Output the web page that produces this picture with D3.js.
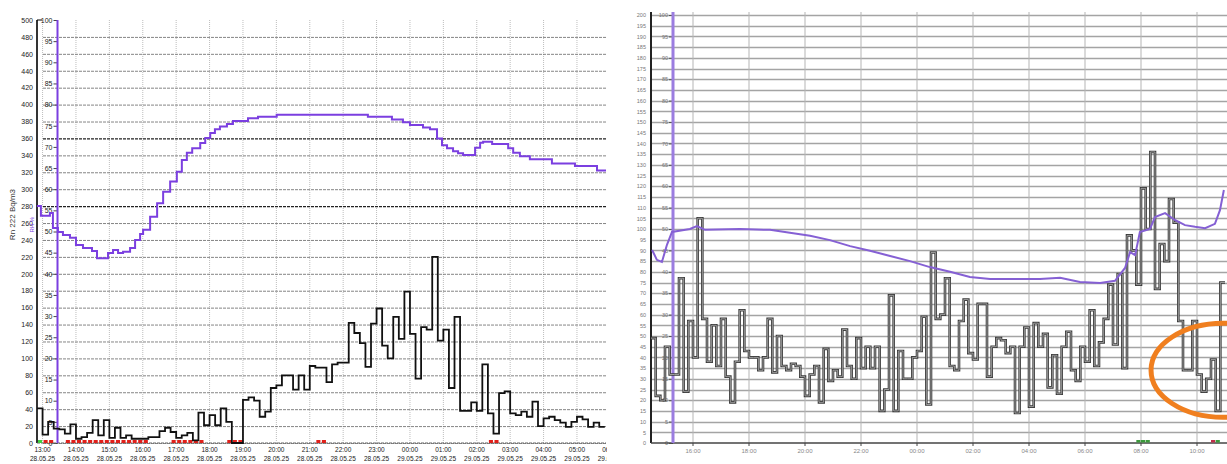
<!DOCTYPE html>
<html>
<head>
<meta charset="utf-8">
<script src="https://cdnjs.cloudflare.com/ajax/libs/d3/7.8.5/d3.min.js"></script>
<style>
body { margin: 0; background: #fff; }
svg { display: block; font-family: "Liberation Sans", Arial, sans-serif; }
</style>
</head>
<body>
<script>
// ---- left screenshot: 10 min readings from 28.05.25 12:50 ----
var leftStart = 12 + 50 / 60;   // hours from 28.05 00:00
var leftRn = [41,10,25,17,16,11,22,5,7,12,27,9,27,6,18,6,9,5,5,5,7,7,14,18,13,6,9,12,3,36,
  21,33,21,41,25,0,0,51,54,50,31,37,65,68,80,80,63,80,63,91,89,89,72,93,95,95,142,130,118,90,
  141,159,115,100,149,123,179,129,76,137,134,220,121,134,65,149,38,38,48,38,93,35,11,59,61,35,
  33,37,31,49,20,29,31,27,24,19,25,31,28,19,24,19];
var leftHumT = [12.83,12.95,13.22,13.31,13.46,13.61,13.82,14.0,14.21,14.48,14.63,14.96,15.11,15.26,15.41,
  15.62,15.77,15.92,16.01,16.22,16.43,16.61,16.82,17.02,17.17,17.32,17.48,17.72,17.87,18.02,18.16,18.31,
  18.52,18.70,19.15,19.45,20.01,22.74,23.46,23.79,24.0,24.39,24.60,24.81,24.96,25.11,25.29,25.44,25.59,
  25.95,26.10,26.19,26.46,26.94,27.09,27.29,27.59,28.25,28.94,29.60,29.87];
var leftHumV = [56.0,53.7,54.4,50.8,49.9,49.2,48.5,46.8,46.1,45.4,43.7,44.9,45.6,44.9,45.2,46.1,48.0,49.4,
  50.4,53.5,56.7,59.4,61.8,64.1,66.9,68.6,69.7,70.9,72.1,73.3,74.2,74.8,75.4,76.1,76.8,77.1,77.6,77.1,76.5,
  75.8,75.2,74.6,74.2,72.0,70.4,69.7,69.0,68.5,68.1,69.8,71.0,71.2,70.7,69.7,68.6,67.8,67.1,66.1,65.5,64.4,64.4];
var leftRedFlags = [1,2,5,6,7,8,9,10,11,12,13,14,15,16,17,18,19,24,25,26,27,28,29,34,35,36,50,51,81,82];
var leftGreenFlags = [0];
var leftHours = [13,14,15,16,17,18,19,20,21,22,23,24,25,26,27,28,29,30];
var leftRnTicks = d3.range(0, 501, 20);
var leftHumTicks = d3.range(0, 101, 5);

// ---- right screenshot: 10 min readings from 14:30 ----
var rightStart = 14.5;
var rightRn = [49,22,20,45,32,32,77,24,57,40,105,58,38,55,36,58,31,19,38,62,43,40,40,34,40,58,33,50,36,34,
  37,36,31,22,32,36,19,44,29,34,31,53,36,30,49,35,45,35,45,15,25,69,15,43,30,30,40,43,59,18,
  89,58,60,77,36,34,57,67,42,39,65,65,31,45,49,48,42,45,14,45,54,17,56,45,51,26,41,23,45,52,
  34,29,45,38,62,36,47,58,74,46,79,35,97,90,74,119,100,136,72,93,85,114,103,57,34,34,57,32,24,30,
  39,15,75];
var rightHumT = [14.54,14.71,14.89,15.07,15.25,15.89,16.14,16.43,17.68,18.75,19.46,20.18,20.89,21.61,22.32,
  23.04,23.75,24.46,25.18,25.89,26.61,27.32,28.39,29.11,29.82,30.54,31.07,31.43,31.61,31.79,31.96,32.32,
  32.5,32.86,33.21,33.57,33.93,34.29,34.64,34.82,34.96];
var rightHumV = [45.1,42.8,42.3,46.3,49.3,50.0,50.7,49.8,50.0,49.8,49.1,48.4,47.4,46.0,44.9,43.7,42.5,41.1,
  40.0,38.8,38.3,38.3,38.3,38.6,37.6,37.4,37.9,40.9,44.6,43.9,49.3,50.0,52.8,53.7,52.1,50.9,50.5,50.2,51.2,54.4,59.1];
var rightRedFlags = [120];
var rightGreenFlags = [104,105,106,121];
var rightHours = [16,18,20,22,24,26,28,30,32,34];
var rightRnTicks = d3.range(0, 201, 5);
var rightHumTicks = d3.range(0, 101, 5);

var step = 1 / 6;
function hhmm(h) { return d3.format("02")(Math.round(h) % 24) + ":00"; }

var svg = d3.select("body").append("svg")
    .attr("width", 1227)
    .attr("height", 464);

// ================= left panel =================
svg.append("clipPath").attr("id", "clipL")
  .append("rect").attr("x", 0).attr("y", 0).attr("width", 607).attr("height", 464);

var left = svg.append("g").attr("clip-path", "url(#clipL)");

var xL = d3.scaleLinear().domain([leftStart, leftStart + 569 / 33.4]).range([37, 606]);
var yL = d3.scaleLinear().domain([0, 500]).range([443, 20]);
var yLH = d3.scaleLinear().domain([0, 100]).range([443, 20]);

// vertical grid
left.selectAll("line.vg").data(leftHours).join("line")
    .attr("x1", function (d) { return xL(d); })
    .attr("x2", function (d) { return xL(d); })
    .attr("y1", yL(500)).attr("y2", yL(0))
    .attr("stroke", "#bdbdbd").attr("stroke-width", 1).attr("stroke-dasharray", "1,1");

// horizontal grid
left.selectAll("line.hg").data(leftRnTicks.filter(function (d) { return d < 500; })).join("line")
    .attr("x1", 43).attr("x2", 606)
    .attr("y1", function (d) { return yL(d) + 0.5; })
    .attr("y2", function (d) { return yL(d) + 0.5; })
    .attr("stroke", function (d) { return (d == 280 || d == 360) ? "#222" : "#666"; })
    .attr("stroke-width", function (d) { return (d == 280 || d == 360) ? 1.2 : 0.8; })
    .attr("stroke-dasharray", "3,1");

// Rn axis
var axRn = left.append("g").attr("transform", "translate(37,0)")
    .call(d3.axisLeft(yL).tickValues(leftRnTicks).tickSize(0).tickPadding(4));
axRn.select(".domain").remove();
axRn.selectAll("text").attr("font-size", 7).attr("fill", "#222");
left.append("line").attr("x1", 37).attr("x2", 37).attr("y1", yL(500)).attr("y2", yL(0))
    .attr("stroke", "#000").attr("stroke-width", 1.6);
left.append("line").attr("x1", 37).attr("x2", 42).attr("y1", yL(500)).attr("y2", yL(500))
    .attr("stroke", "#000");

// humidity axis
var axH = left.append("g").attr("transform", "translate(57.5,0)")
    .call(d3.axisLeft(yLH).tickValues(leftHumTicks).tickSize(4).tickPadding(1));
axH.select(".domain").remove();
axH.selectAll("line").attr("stroke", "#444");
axH.selectAll("text").attr("font-size", 7).attr("fill", "#222");

// x labels
var xl = left.selectAll("text.xl").data(leftHours).join("text")
    .attr("x", function (d) { return xL(d); })
    .attr("y", 452)
    .attr("text-anchor", "middle")
    .attr("font-size", 6.5)
    .attr("fill", "#222");
xl.append("tspan").text(function (d) { return hhmm(d); });
xl.append("tspan").attr("x", function (d) { return xL(d); }).attr("dy", 8.5)
    .text(function (d) { return d < 24 ? "28.05.25" : "29.05.25"; });

left.append("text")
    .attr("transform", "translate(15," + yL(270) + ") rotate(-90)")
    .attr("text-anchor", "middle").attr("font-size", 8).attr("fill", "#333")
    .text("Rn 222 Bq/m3");
left.append("text")
    .attr("transform", "translate(34," + yL(258) + ") rotate(-90)")
    .attr("text-anchor", "middle").attr("font-size", 6).attr("fill", "#7b3fe0")
    .text("RH %");

// baseline
left.append("line").attr("x1", 37).attr("x2", 606).attr("y1", yL(0)).attr("y2", yL(0))
    .attr("stroke", "#666").attr("stroke-dasharray", "3,1");

// flags
left.selectAll("rect.rf").data(leftRedFlags).join("rect")
    .attr("x", function (d) { return xL(leftStart + d * step) + 1; })
    .attr("width", function (d) { return xL(leftStart + (d + 1) * step) - xL(leftStart + d * step) - 1.5; })
    .attr("y", yL(0) - 3).attr("height", 3).attr("fill", "#e0201a");
left.selectAll("rect.gf").data(leftGreenFlags).join("rect")
    .attr("x", function (d) { return xL(leftStart + d * step) + 1; })
    .attr("width", function (d) { return xL(leftStart + (d + 1) * step) - xL(leftStart + d * step) - 1.5; })
    .attr("y", yL(0) - 3).attr("height", 3).attr("fill", "#3fcf3f");

// humidity vertical axis line
left.append("line").attr("x1", 57.5).attr("x2", 57.5).attr("y1", yL(500)).attr("y2", yL(0))
    .attr("stroke", "#7b3fe0").attr("stroke-width", 2);

// series
var rnPtsL = leftRn.map(function (v, i) { return [leftStart + i * step, v]; });
rnPtsL.push([leftStart + leftRn.length * step, leftRn[leftRn.length - 1]]);
left.append("path").datum(rnPtsL)
    .attr("fill", "none").attr("stroke", "#111").attr("stroke-width", 1.8)
    .attr("d", d3.line().curve(d3.curveStepAfter)
        .x(function (d) { return xL(d[0]); })
        .y(function (d) { return yL(d[1]); }));

var humPtsL = leftHumT.map(function (t, i) { return [t, leftHumV[i]]; });
left.append("path").datum(humPtsL)
    .attr("fill", "none").attr("stroke", "#7b3fe0").attr("stroke-width", 2)
    .attr("d", d3.line().curve(d3.curveStepAfter)
        .x(function (d) { return xL(d[0]); })
        .y(function (d) { return yLH(d[1]); }));

// ================= right panel =================
var right = svg.append("g");

var xR = d3.scaleLinear().domain([rightStart, rightStart + 576 / 28]).range([651, 1227]);
var yR = d3.scaleLinear().domain([0, 200]).range([443, 15]);
var yRH = d3.scaleLinear().domain([0, 100]).range([443, 15]);

right.selectAll("line.hg").data(rightRnTicks.filter(function (d) { return d > 0; })).join("line")
    .attr("class", "hg")
    .attr("x1", 651).attr("x2", 1227)
    .attr("y1", function (d) { return Math.round(yR(d)) + 0.5; })
    .attr("y2", function (d) { return Math.round(yR(d)) + 0.5; })
    .attr("stroke", "#a4a4a4").attr("stroke-width", 1.3);

right.selectAll("line.vg").data(rightHours).join("line")
    .attr("class", "vg")
    .attr("x1", function (d) { return xR(d); })
    .attr("x2", function (d) { return xR(d); })
    .attr("y1", 12).attr("y2", yR(0))
    .attr("stroke", "#b5b5b5").attr("stroke-width", 1);

var axRR = right.append("g").attr("transform", "translate(651,0)")
    .call(d3.axisLeft(yR).tickValues(rightRnTicks).tickSize(0).tickPadding(5));
axRR.select(".domain").remove();
axRR.selectAll("text").attr("font-size", 5.5).attr("fill", "#777");

var axRH = right.append("g").attr("transform", "translate(673,0)")
    .call(d3.axisLeft(yRH).tickValues(rightHumTicks).tickSize(4).tickPadding(1));
axRH.select(".domain").remove();
axRH.selectAll("line").attr("stroke", "#555");
axRH.selectAll("text").attr("font-size", 5.5).attr("fill", "#777");

right.append("line").attr("x1", 651).attr("x2", 651).attr("y1", 12).attr("y2", yR(0))
    .attr("stroke", "#222").attr("stroke-width", 2);
right.append("line").attr("x1", 651).attr("x2", 1227).attr("y1", yR(0)).attr("y2", yR(0))
    .attr("stroke", "#444").attr("stroke-width", 1.5);
right.selectAll("line.xt").data(rightHours).join("line")
    .attr("class", "xt")
    .attr("x1", function (d) { return xR(d); })
    .attr("x2", function (d) { return xR(d); })
    .attr("y1", yR(0)).attr("y2", yR(0) + 3)
    .attr("stroke", "#444");
right.selectAll("text.xl").data(rightHours).join("text")
    .attr("class", "xl")
    .attr("x", function (d) { return xR(d); })
    .attr("y", 453)
    .attr("text-anchor", "middle").attr("font-size", 6).attr("fill", "#888")
    .text(function (d) { return hhmm(d); });

right.append("line").attr("x1", 673).attr("x2", 673).attr("y1", 12).attr("y2", yR(0))
    .attr("stroke", "#9b7de0").attr("stroke-width", 3);

right.selectAll("rect.rf").data(rightRedFlags).join("rect")
    .attr("x", function (d) { return xR(rightStart + d * step); })
    .attr("width", function (d) { return xR(rightStart + (d + 1) * step) - xR(rightStart + d * step) - 0.5; })
    .attr("y", yR(0) - 3).attr("height", 2.5).attr("fill", "#c0304a");
right.selectAll("rect.gf").data(rightGreenFlags).join("rect")
    .attr("x", function (d) { return xR(rightStart + d * step); })
    .attr("width", function (d) { return xR(rightStart + (d + 1) * step) - xR(rightStart + d * step) - 0.5; })
    .attr("y", yR(0) - 3).attr("height", 2.5).attr("fill", "#3c9a3c");

var rnPtsR = rightRn.map(function (v, i) { return [rightStart + i * step, v]; });
rnPtsR.push([rightStart + rightRn.length * step, rightRn[rightRn.length - 1]]);
var rnLineR = d3.line().curve(d3.curveStepAfter)
    .x(function (d) { return xR(d[0]); })
    .y(function (d) { return yR(d[1]); });
right.append("path").datum(rnPtsR)
    .attr("fill", "none").attr("stroke", "#3a3a3a").attr("stroke-width", 2.6).attr("d", rnLineR);
right.append("path").datum(rnPtsR)
    .attr("fill", "none").attr("stroke", "#a8a8a8").attr("stroke-width", 0.9).attr("d", rnLineR);

var humPtsR = rightHumT.map(function (t, i) { return [t, rightHumV[i]]; });
right.append("path").datum(humPtsR)
    .attr("fill", "none").attr("stroke", "#8560d4").attr("stroke-width", 2)
    .attr("d", d3.line()
        .x(function (d) { return xR(d[0]); })
        .y(function (d) { return yRH(d[1]); }));

// orange highlight round the last hours
svg.append("ellipse")
    .attr("cx", xR(34.93)).attr("cy", yR(34))
    .attr("rx", 72).attr("ry", 47)
    .attr("fill", "none").attr("stroke", "#f07f1f").attr("stroke-width", 5);
</script>
</body>
</html>
